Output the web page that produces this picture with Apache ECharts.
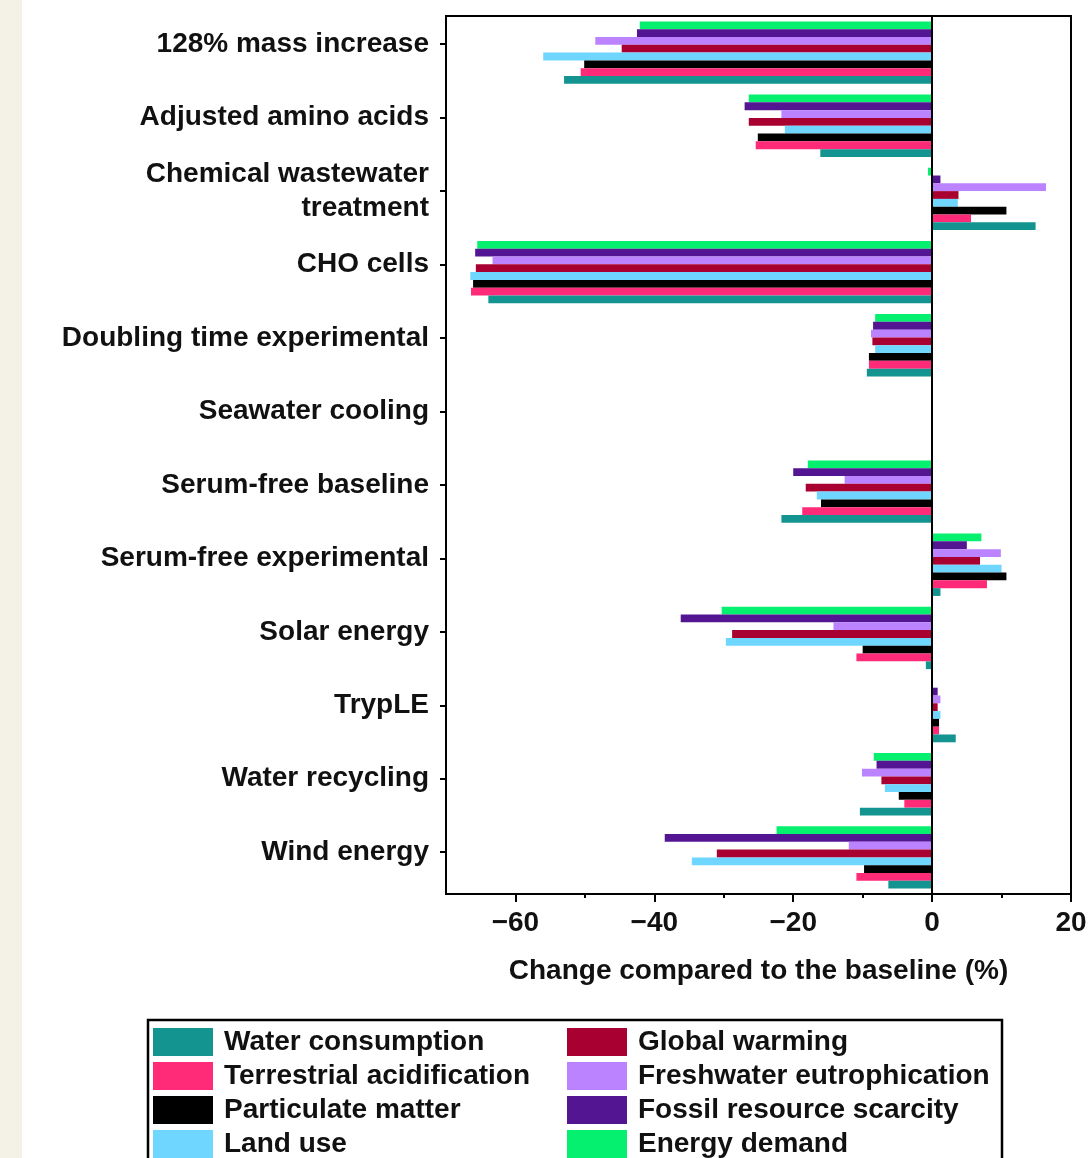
<!DOCTYPE html>
<html>
<head>
<meta charset="utf-8">
<script src="https://cdn.jsdelivr.net/npm/echarts@6/dist/echarts.min.js"></script>
<style>
  html, body { margin: 0; padding: 0; background: #ffffff; }
  #chart { width: 1091px; height: 1158px; }
</style>
</head>
<body>
<div id="chart"></div>
<script>
// Scenarios, top to bottom
const scenarios = [
  '128% mass increase',
  'Adjusted amino acids',
  'Chemical wastewater\ntreatment',
  'CHO cells',
  'Doubling time experimental',
  'Seawater cooling',
  'Serum-free baseline',
  'Serum-free experimental',
  'Solar energy',
  'TrypLE',
  'Water recycling',
  'Wind energy'
];

// Change compared to the baseline (%) per impact category, one value per scenario
const waterConsumption         = [-53.0, -16.1, 14.9, -63.9, -9.4, 0, -21.7, 1.2, -0.9, 3.4, -10.4, -6.3];
const terrestrialAcidification = [-50.6, -25.4, 5.6, -66.4, -9.1, 0, -18.7, 7.9, -10.9, 1.0, -4.0, -10.9];
const particulateMatter        = [-50.1, -25.1, 10.7, -66.1, -9.1, 0, -16.0, 10.7, -10.0, 1.0, -4.8, -9.8];
const landUse                  = [-56.0, -21.2, 3.7, -66.5, -8.2, 0, -16.6, 10.0, -29.7, 1.2, -6.8, -34.6];
const globalWarming            = [-44.7, -26.4, 3.8, -65.7, -8.6, 0, -18.2, 6.9, -28.8, 0.8, -7.3, -31.0];
const freshwaterEutrophication = [-48.5, -21.7, 16.4, -63.3, -8.8, 0, -12.6, 9.9, -14.2, 1.2, -10.1, -12.0];
const fossilResourceScarcity   = [-42.5, -27.0, 1.2, -65.8, -8.5, 0, -20.0, 5.0, -36.2, 0.8, -8.0, -38.5];
const energyDemand             = [-42.1, -26.4, -0.6, -65.5, -8.2, 0, -17.9, 7.1, -30.3, 0, -8.4, -22.4];

const xMajorTicks = [-60, -40, -20, 0, 20];
const xMinorTicks = [-50, -30, -10, 10];

// Legend order (column by column)
const seriesDefs = [
  { name: 'Water consumption',         data: waterConsumption,         color: '#139491' },
  { name: 'Terrestrial acidification', data: terrestrialAcidification, color: '#ff2a78' },
  { name: 'Particulate matter',        data: particulateMatter,        color: '#000000' },
  { name: 'Land use',                  data: landUse,                  color: '#6fd6ff' },
  { name: 'Global warming',            data: globalWarming,            color: '#a80030' },
  { name: 'Freshwater eutrophication', data: freshwaterEutrophication, color: '#bb83ff' },
  { name: 'Fossil resource scarcity',  data: fossilResourceScarcity,   color: '#541593' },
  { name: 'Energy demand',             data: energyDemand,             color: '#05f06f' }
];

const FONT = '"Liberation Sans", Arial, sans-serif';
const textBase = { fontFamily: FONT, fontWeight: 'bold', color: '#111', fontSize: 28 };

const chart = echarts.init(document.getElementById('chart'), null, { renderer: 'canvas' });

// Bars stack top-to-bottom in each group: Energy demand first, Water consumption last
const series = seriesDefs.slice().reverse().map((s, i) => ({
  type: 'bar',
  name: s.name,
  xAxisIndex: 0,
  yAxisIndex: 0,
  data: s.data,
  barWidth: 7.8,
  barGap: '0%',
  itemStyle: { color: s.color },
  silent: true,
  animation: false,
  markLine: i === 0 ? {
    silent: true,
    symbol: 'none',
    label: { show: false },
    lineStyle: { color: '#000', width: 2, type: 'solid' },
    data: [{ xAxis: 0 }]
  } : undefined
}));

const legendCommon = {
  orient: 'vertical', top: 1028, padding: 0,
  itemWidth: 60, itemHeight: 28, itemGap: 6, icon: 'rect',
  selectedMode: false,
  textStyle: { ...textBase, padding: [0, 0, 0, 6] }
};

chart.setOption({
  animation: false,
  backgroundColor: '#ffffff',
  grid: [
    { left: 446, right: 20, top: 16, height: 878, show: true, borderColor: '#000', borderWidth: 2, containLabel: false },
    { left: 446, right: 20, top: 7.5, height: 881.4, show: false, containLabel: false }
  ],
  xAxis: [
    {
      type: 'value', gridIndex: 0, min: -70, max: 20,
      axisLine: { show: true, lineStyle: { color: '#000', width: 2 } },
      axisTick: { show: true, customValues: xMajorTicks, length: 8, lineStyle: { color: '#000', width: 2 } },
      axisLabel: { ...textBase, customValues: xMajorTicks, margin: 15,
        formatter: v => (v < 0 ? '\u2212' + Math.abs(v) : String(v)) },
      splitLine: { show: false },
      name: 'Change compared to the baseline (%)',
      nameLocation: 'middle', nameGap: 63,
      nameTextStyle: { ...textBase }
    },
    {
      type: 'value', gridIndex: 0, min: -70, max: 20, position: 'bottom',
      axisLine: { show: false },
      axisTick: { show: true, customValues: xMinorTicks, length: 4, lineStyle: { color: '#000', width: 2 } },
      axisLabel: { show: false },
      splitLine: { show: false }
    },
    {
      type: 'value', gridIndex: 1, min: 0, max: 1, show: false
    }
  ],
  yAxis: [
    {
      type: 'category', gridIndex: 0, data: scenarios, inverse: true,
      axisLine: { show: false }, axisTick: { show: false }, axisLabel: { show: false },
      splitLine: { show: false }
    },
    {
      type: 'category', gridIndex: 1, data: scenarios, inverse: true,
      axisLine: { show: false },
      axisTick: { show: true, alignWithLabel: true, length: 6, lineStyle: { color: '#000', width: 2 } },
      axisLabel: { ...textBase, margin: 17, lineHeight: 34, align: 'right' },
      splitLine: { show: false }
    }
  ],
  legend: [
    { ...legendCommon, left: 153, data: seriesDefs.slice(0, 4).map(s => s.name) },
    { ...legendCommon, left: 567, data: seriesDefs.slice(4).map(s => s.name) }
  ],
  graphic: [
    {
      type: 'rect', z: -1, silent: true,
      shape: { x: 0, y: 0, width: 22, height: 1158 },
      style: { fill: '#f4f2e6' }
    },
    {
      type: 'rect', z: 0, silent: true,
      shape: { x: 148, y: 1020, width: 854, height: 160 },
      style: { fill: '#ffffff', stroke: '#000', lineWidth: 2.5 }
    }
  ],
  series: series
});
</script>
</body>
</html>
